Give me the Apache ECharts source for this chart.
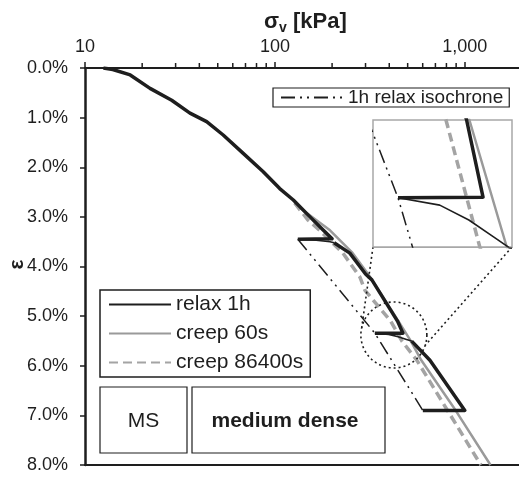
<!DOCTYPE html>
<html>
<head>
<meta charset="utf-8">
<script src="https://cdn.jsdelivr.net/npm/echarts@6/dist/echarts.min.js"></script>
<style>
  html, body { margin: 0; padding: 0; background: #fff; }
  #chart { width: 519px; height: 477px; }
</style>
</head>
<body>
<div id="chart"></div>
<script>
// Oedometer test: vertical stress (kPa, log scale) vs. vertical strain (%).

// relax 1h – thick loading / relaxation path (breaks between reload pieces)
const relaxLoading = [
  [12.5, 0.0], [14, 0.03], [17.3, 0.14], [22.0, 0.41], [28.6, 0.65], [35.7, 0.91],
  [43.7, 1.08], [53.4, 1.35], [68.1, 1.72], [86.8, 2.09], [106, 2.43], [125, 2.66],
  [153, 3.0], [180, 3.27], [200, 3.44], [132, 3.45],
  '-',
  [205, 3.52], [248, 3.73], [300, 4.15], [324, 4.27], [442, 5.1], [472, 5.343], [336, 5.345],
  '-',
  [525, 5.503], [655, 5.89], [1000, 6.9], [601, 6.9]
];
// relax 1h – reloading after each relaxation stage
const relaxReload = [
  [132, 3.45], [165, 3.47], [195, 3.50], [205, 3.52],
  '-',
  [336, 5.345], [397, 5.368], [446, 5.415], [493, 5.469], [525, 5.503]
];
const creep60 = [
  [127, 2.72], [140, 2.86], [195, 3.27], [254, 3.71], [312, 4.17], [447, 5.1],
  [519, 5.5], [590, 5.89], [870, 6.83], [1365, 8.0]
];
const creep86400 = [
  [127, 2.72], [149, 3.06], [172, 3.27], [228, 3.73], [280, 4.21], [298, 4.48],
  [407, 5.1], [466, 5.5], [559, 5.89], [1215, 8.0]
];
// end points of the relaxation stages
const isochrone = [[132, 3.45], [336, 5.345], [601, 6.9]];

const xTicksMinor = [20, 30, 40, 50, 60, 70, 80, 90, 200, 300, 400, 500, 600, 700, 800, 900];
const zoomCenter = [[423, 5.38]];

const FONT = "'Liberation Sans', Arial, sans-serif";
const INK = '#1e1e1e';
const GREY = '#9a9a9a';
const GREY_D = '#a4a4a4';
const DASHDOT = [14, 5, 2, 5, 2, 5];

const MAIN = { left: 85, top: 68, width: 437, height: 397 };
const INSET = { left: 373, top: 120, width: 139, height: 127 };

function lineSeries(name, data, color, width, type, xi, yi, z) {
  return {
    type: 'line', name: name, data: data,
    xAxisIndex: xi, yAxisIndex: yi,
    symbol: 'none', showSymbol: false, connectNulls: false, clip: true,
    silent: true, animation: false, z: z,
    itemStyle: { color: color },
    lineStyle: { color: color, width: width, type: type, cap: 'butt', join: 'round' }
  };
}

function seriesSet(xi, yi) {
  return [
    lineSeries('creep 86400s', creep86400, GREY_D, 3.5, [9, 5], xi, yi, 2),
    lineSeries('creep 60s', creep60, GREY, 2.5, 'solid', xi, yi, 3),
    lineSeries('1h relax isochrone', isochrone, INK, 1.5, DASHDOT, xi, yi, 4),
    lineSeries('relax 1h', relaxLoading, INK, 3.5, 'solid', xi, yi, 5),
    lineSeries('relax 1h reload', relaxReload, INK, 1.6, 'solid', xi, yi, 5)
  ];
}

const chart = echarts.init(document.getElementById('chart'), null, { renderer: 'canvas' });

const legendCommon = {
  itemWidth: 62, itemHeight: 14,
  borderColor: INK, borderRadius: 0,
  backgroundColor: '#fff',
  selectedMode: false,
  itemStyle: { opacity: 0, borderWidth: 0 }
};

const option = {
  animation: false,
  backgroundColor: '#fff',
  textStyle: { fontFamily: FONT, color: INK },
  title: {
    text: '{a|σ}{s|v}{a| [kPa]}',
    left: 259, top: 4,
    textStyle: {
      rich: {
        a: { fontFamily: FONT, fontSize: 22, fontWeight: 'bold', color: INK, lineHeight: 26 },
        s: { fontFamily: FONT, fontSize: 14, fontWeight: 'bold', color: INK, lineHeight: 10, verticalAlign: 'bottom' }
      }
    }
  },
  legend: [
    Object.assign({}, legendCommon, {
      data: ['1h relax isochrone'],
      left: 273, top: 88,
      orient: 'horizontal',
      itemGap: 6,
      padding: [0, 6, 0, 7],
      borderWidth: 1.2,
      textStyle: { fontFamily: FONT, fontSize: 19, color: INK }
    }),
    Object.assign({}, legendCommon, {
      data: ['relax 1h', 'creep 60s', 'creep 86400s'],
      left: 100, top: 290,
      orient: 'vertical',
      itemGap: 8,
      padding: [4, 7, 4, 8],
      borderWidth: 1.5,
      textStyle: { fontFamily: FONT, fontSize: 21, color: INK }
    })
  ],
  grid: [
    {
      left: MAIN.left, top: MAIN.top, width: MAIN.width, height: MAIN.height,
      containLabel: false, outerBoundsMode: 'none'
    },
    {
      left: INSET.left, top: INSET.top, width: INSET.width, height: INSET.height,
      containLabel: false, outerBoundsMode: 'none',
      show: true, borderColor: '#a8a8a8', borderWidth: 1.5, backgroundColor: '#fff', z: 10
    }
  ],
  xAxis: [
    {
      gridIndex: 0, type: 'log', logBase: 10, min: 10, max: 2000, position: 'top',
      axisLine: { show: true, lineStyle: { color: INK, width: 2 } },
      axisTick: { show: true, length: 6, lineStyle: { color: INK, width: 1.5 } },
      splitLine: { show: false },
      axisLabel: {
        fontFamily: FONT, fontSize: 18, color: INK, margin: 12,
        showMaxLabel: false,
        formatter: function (v) {
          const e = Math.log10(v);
          if (Math.abs(e - Math.round(e)) > 1e-6) return '';
          return Math.round(v).toLocaleString('en-US');
        }
      }
    },
    {
      gridIndex: 0, type: 'log', logBase: 10, min: 10, max: 2000, position: 'bottom',
      axisLine: { show: true, onZero: false, lineStyle: { color: INK, width: 2 } },
      axisTick: { show: false }, axisLabel: { show: false }, splitLine: { show: false }
    },
    {
      gridIndex: 1, type: 'log', logBase: 10, min: 304, max: 530, show: false
    }
  ],
  yAxis: [
    {
      gridIndex: 0, type: 'value', min: 0, max: 8, interval: 1, inverse: true,
      name: 'ε', nameLocation: 'middle', nameGap: 57, nameRotate: 90, nameMoveOverlap: false,
      nameTextStyle: { fontFamily: FONT, fontSize: 21, fontWeight: 'bold', color: INK, padding: [0, 0, 0, 4] },
      axisLine: { show: true, lineStyle: { color: INK, width: 2.5 } },
      axisTick: { show: true, length: 5, lineStyle: { color: INK, width: 1.5 } },
      splitLine: { show: false },
      axisLabel: {
        fontFamily: FONT, fontSize: 18, color: INK, margin: 17,
        formatter: function (v) { return v.toFixed(1) + '%'; }
      }
    },
    {
      gridIndex: 1, type: 'value', min: 5.1, max: 5.5, interval: 0.1, inverse: true,
      axisLine: { show: false }, axisTick: { show: false },
      splitLine: { show: true, lineStyle: { color: '#a8a8a8', width: 1.2 } },
      axisLabel: {
        inside: true, margin: 17, verticalAlign: 'top',
        showMinLabel: true, showMaxLabel: true,
        fontFamily: FONT, fontSize: 19, color: INK,
        formatter: function (v) { return Math.abs(v - 5.1) < 1e-6 ? '5.1%' : ''; }
      }
    },
    {
      gridIndex: 1, type: 'value', min: 5.1, max: 5.5, interval: 0.1, inverse: true,
      axisLine: { show: false }, axisTick: { show: false }, splitLine: { show: false },
      axisLabel: {
        inside: true, margin: 4, verticalAlign: 'bottom',
        showMinLabel: true, showMaxLabel: true,
        fontFamily: FONT, fontSize: 19, color: INK, padding: [0, 0, 3, 0],
        formatter: function (v) { return Math.abs(v - 5.5) < 1e-6 ? '5.5%' : ''; }
      }
    }
  ],
  graphic: [
    {
      type: 'rect', shape: { x: 100, y: 387, width: 87, height: 66 },
      style: { fill: '#fff', stroke: INK, lineWidth: 1.2 }, z: 50
    },
    {
      type: 'text', x: 143.5, y: 421, z: 51,
      style: { text: 'MS', fontFamily: FONT, fontSize: 21, fill: INK, align: 'center', verticalAlign: 'middle' }
    },
    {
      type: 'rect', shape: { x: 192, y: 387, width: 193, height: 66 },
      style: { fill: '#fff', stroke: INK, lineWidth: 1.2 }, z: 50
    },
    {
      type: 'text', x: 285, y: 421, z: 51,
      style: { text: 'medium dense', fontFamily: FONT, fontSize: 21, fontWeight: 'bold', fill: INK, align: 'center', verticalAlign: 'middle' }
    }
  ],
  series: [].concat(
    seriesSet(0, 0),
    seriesSet(2, 1).map(function (s) { s.z = s.z + 20; return s; }),
    [
      {
        // minor ticks of the logarithmic stress axis
        type: 'custom', xAxisIndex: 0, yAxisIndex: 0, silent: true, clip: false,
        data: xTicksMinor.map(function (v) { return [v, 0]; }),
        renderItem: function (params, api) {
          const p = api.coord([api.value(0), api.value(1)]);
          return {
            type: 'line',
            shape: { x1: p[0], y1: p[1], x2: p[0], y2: p[1] - 5 },
            style: { stroke: INK, lineWidth: 1.5 }
          };
        }
      },
      {
        // dotted circle marking the magnified region, with connectors to the inset
        type: 'custom', xAxisIndex: 0, yAxisIndex: 0, silent: true, clip: false, z: 8,
        data: zoomCenter,
        renderItem: function (params, api) {
          const c = api.coord([api.value(0), api.value(1)]);
          const r = 33;
          const dotted = { stroke: INK, fill: null, lineWidth: 1.6, lineDash: [2, 3] };
          const aL = 193 * Math.PI / 180, aR = 18 * Math.PI / 180;
          const bl = [INSET.left, INSET.top + INSET.height];
          const br = [INSET.left + INSET.width, INSET.top + INSET.height];
          return {
            type: 'group',
            children: [
              { type: 'circle', shape: { cx: c[0], cy: c[1], r: r }, style: dotted },
              { type: 'line', shape: { x1: bl[0], y1: bl[1], x2: c[0] + r * Math.cos(aL), y2: c[1] + r * Math.sin(aL) }, style: dotted },
              { type: 'line', shape: { x1: br[0], y1: br[1], x2: c[0] + r * Math.cos(aR), y2: c[1] + r * Math.sin(aR) }, style: dotted }
            ]
          };
        }
      }
    ]
  )
};

chart.setOption(option);
</script>
</body>
</html>
